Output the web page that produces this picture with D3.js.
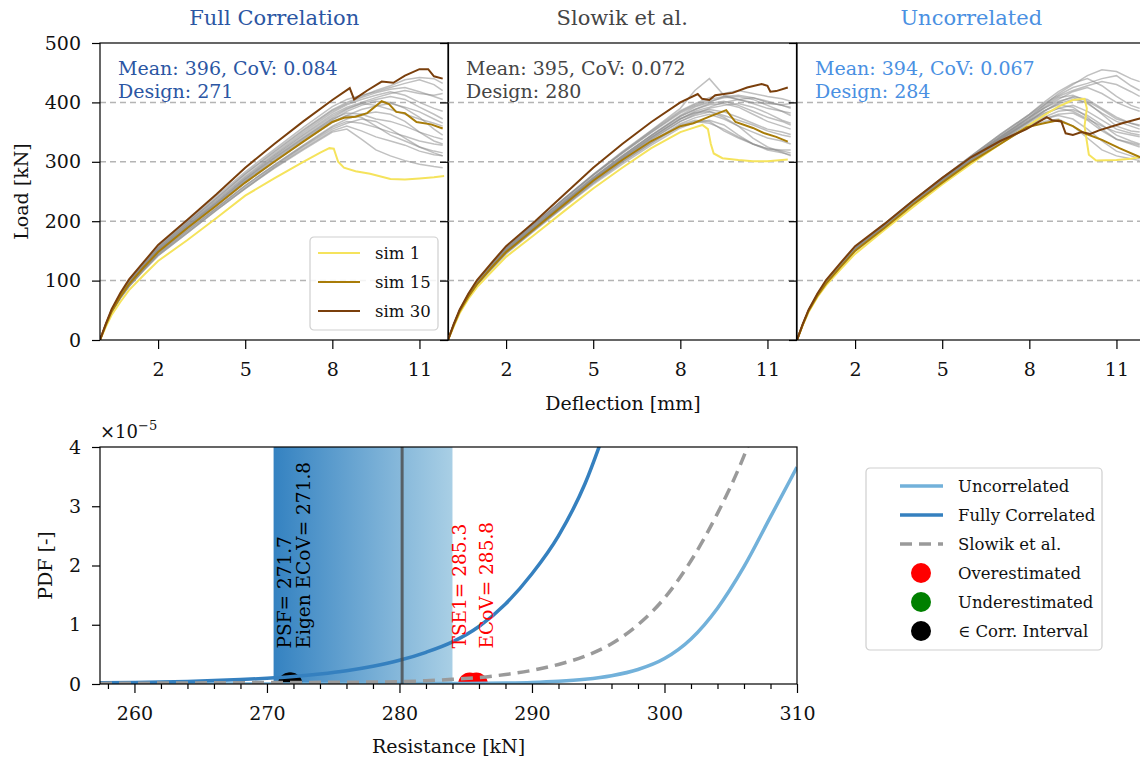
<!DOCTYPE html>
<html>
<head>
<meta charset="utf-8">
<script src="https://cdn.jsdelivr.net/npm/d3@7"></script>
<style>
  body { margin: 0; background: #fff; }
  svg { font-family: "DejaVu Serif", serif; }
  .grid-line { stroke: #b4b4b4; stroke-width: 1.5; stroke-dasharray: 6,4; }
  .frame { fill: none; stroke: #000; stroke-width: 1.2; }
  .gray-sim { fill: none; stroke: #8c8c8c; stroke-opacity: 0.55; stroke-width: 1.5; }
</style>
</head>
<body>
<div id="chart"></div>
<script>
/**
 * DATA
 * */
// shared deflection grid [mm] for the gray simulations
const deflection = [0, 0.2, 0.4, 0.7, 1, 1.5, 2, 3, 4, 5, 6, 7, 8, 8.5, 9, 9.5, 10, 10.5, 11, 11.5, 11.8];

// gray simulations, load [kN] at each deflection
const fullGray = [
  [0,26,49,75,96,124,151,192,231,271,307,341,374,388,398,405,410,405,392,380,372],
  [0,25,48,73,94,122,148,188,226,265,300,334,366,378,388,394,398,392,384,372,365],
  [0,27,50,77,99,127,155,197,238,279,316,352,386,398,408,416,422,425,418,410,405],
  [0,25,47,72,93,120,146,185,222,260,294,327,358,368,365,358,350,343,335,330,328],
  [0,26,50,76,97,126,153,194,234,274,311,346,380,392,400,408,415,420,415,412,415],
  [0,24,46,70,90,117,142,180,218,255,290,322,352,360,352,342,335,328,318,312,310],
  [0,26,49,74,95,123,150,190,229,268,304,338,370,385,395,402,400,390,375,355,345],
  [0,27,51,78,100,129,157,200,242,283,321,358,393,405,412,418,425,432,438,430,420],
  [0,24,47,71,91,118,144,182,220,257,292,325,355,365,372,368,355,340,325,318,315],
  [0,26,49,75,97,125,152,193,232,272,309,344,377,390,398,395,388,380,372,365,360],
  [0,25,48,74,95,122,149,189,228,267,302,336,368,378,375,360,345,335,325,315,310],
  [0,26,50,76,98,127,154,196,236,276,313,349,383,396,405,412,418,412,400,390,385],
  [0,25,47,72,92,119,145,184,222,260,295,328,360,372,380,384,380,368,350,335,330],
  [0,26,49,75,96,124,151,191,230,270,306,340,372,382,380,372,368,360,350,342,338],
  [0,24,46,70,90,117,142,180,218,255,289,320,350,355,338,320,310,302,296,292,290],
  [0,27,51,77,99,128,156,198,239,280,318,354,388,400,410,420,428,438,442,440,432]
];
const slowikGray = [
  [0,26,49,74,95,123,150,190,230,270,305,338,368,380,390,395,398,392,382,370,365],
  [0,26,50,76,97,126,153,194,234,274,310,344,377,388,398,402,395,385,375,368,362],
  [0,25,48,73,94,122,148,188,228,267,302,334,364,374,380,372,360,350,340,335,330],
  [0,27,50,77,99,127,155,197,238,278,315,350,384,396,405,410,412,408,400,395,392],
  [0,25,47,72,92,119,145,185,224,262,296,328,357,366,370,362,345,330,320,315,312],
  [0,27,50,77,99,127,155,197,238,279,317,353,390,420,440,412,405,400,398,396,398],
  [0,26,49,74,95,123,150,190,230,270,306,340,372,385,392,400,405,408,402,395,390],
  [0,25,48,73,93,121,147,187,226,265,300,332,362,370,368,352,340,330,322,318,315],
  [0,26,50,76,98,127,154,196,236,277,314,349,382,394,402,408,410,405,395,385,378],
  [0,26,49,75,96,124,151,191,231,271,307,341,373,383,388,384,375,365,355,350,346],
  [0,26,49,75,97,125,152,193,233,273,309,344,376,388,396,398,392,380,368,360,355],
  [0,25,48,74,95,122,149,189,229,268,304,337,368,378,384,375,360,340,325,316,310],
  [0,27,50,77,99,127,155,197,238,278,316,352,386,398,408,415,420,415,410,406,402],
  [0,26,49,75,96,124,151,191,231,271,307,341,372,382,385,378,370,362,352,345,342],
  [0,26,49,75,97,125,152,193,233,273,310,345,378,392,400,410,405,398,390,385,382],
  [0,25,47,72,93,120,146,186,225,264,299,331,360,368,365,355,342,330,322,320,320]
];
const uncorrGray = [
  [0,26,50,76,97,126,153,192,232,270,305,338,368,385,400,410,405,390,375,365,360],
  [0,26,50,76,98,127,154,193,233,271,307,342,375,395,415,430,445,455,452,440,435],
  [0,26,49,75,96,124,151,190,230,268,302,333,360,372,378,372,355,335,318,310,305],
  [0,27,50,77,99,127,155,195,235,273,310,346,380,400,418,432,440,428,410,395,390],
  [0,26,49,75,97,125,152,191,231,269,304,336,366,380,390,395,385,370,355,348,345],
  [0,26,49,74,95,123,150,189,229,267,301,332,358,368,372,360,340,320,310,305,302],
  [0,26,50,76,97,126,153,192,232,270,306,340,372,390,405,418,425,415,400,390,385],
  [0,26,49,75,97,125,152,191,231,269,304,337,368,385,398,405,400,380,360,352,350],
  [0,27,50,77,99,127,155,194,234,272,309,344,378,395,410,420,428,435,430,418,410],
  [0,26,49,75,96,124,151,190,230,268,303,335,363,375,385,388,378,362,345,335,330],
  [0,26,50,76,97,126,153,193,233,271,307,341,374,392,408,412,402,388,372,365,362],
  [0,26,49,75,97,125,152,192,232,270,305,339,370,386,396,392,375,355,338,330,325],
  [0,27,50,77,99,127,155,195,235,273,310,346,380,398,412,425,432,440,445,428,420],
  [0,26,49,75,96,124,151,190,230,268,302,334,362,372,380,382,370,352,338,332,328],
  [0,26,50,76,97,126,153,193,233,271,307,342,375,390,402,408,398,382,368,360,355],
  [0,26,49,75,97,125,152,191,231,269,305,338,369,382,390,385,372,360,350,345,342]
];

// highlighted simulations: deflection / load pairs
const fullSim1D  = [0,0.2,0.4,0.7,1,1.5,2,3,4,5,6,7,7.6,7.9,8.05,8.2,8.4,8.8,9.3,10,10.5,11,11.5,11.85];
const fullSim1L  = [0,22,42,64,84,109,133,168,205,243,272,300,316,323,322,300,290,284,280,271,270,272,274,276];
const fullSim15D = [0,0.2,0.4,0.7,1,1.5,2,3,4,5,6,7,8,8.4,8.8,9.2,9.7,9.95,10.2,10.5,10.9,11.4,11.8];
const fullSim15L = [0,25,48,73,94,122,148,188,226,265,300,334,367,374,376,382,402,397,384,382,367,363,356];
const fullSim30D = [0,0.2,0.4,0.7,1,1.5,2,3,4,5,6,7,8,8.6,8.75,9.2,9.7,10.1,10.5,11,11.3,11.5,11.8];
const fullSim30L = [0,27,52,79,102,131,160,202,245,290,330,368,404,424,405,420,435,433,445,456,456,444,440];

const slowikSim1D  = [0,0.2,0.4,0.7,1,1.5,2,3,4,5,6,7,8,8.5,8.76,8.95,9.05,9.15,9.45,10,10.5,11,11.7];
const slowikSim1L  = [0,23,45,69,89,115,140,178,217,255,290,323,350,358,362,355,330,314,306,303,301,301,304];
const slowikSim15D = [0,0.2,0.4,0.7,1,1.5,2,3,4,5,6,7,8,8.45,9,9.58,9.9,10.5,10.9,11.3,11.7];
const slowikSim15L = [0,25,48,73,94,122,148,188,228,268,303,335,360,365,376,387,367,357,348,342,334];
const slowikSim30D = [0,0.2,0.4,0.7,1,1.5,2,3,4,5,6,7,8,8.6,8.75,9,9.2,9.8,10.3,10.8,11,11.1,11.3,11.7];
const slowikSim30L = [0,27,51,78,101,130,158,200,245,290,330,367,400,414,406,404,412,416,425,431,428,418,419,425];

const uncorrSim1D  = [0,0.2,0.4,0.7,1,1.5,2,3,4,5,6,7,7.9,8.5,9,9.5,9.9,9.98,9.9,10.05,10.3,11,11.5,11.8,12];
const uncorrSim1L  = [0,25,47,72,92,119,145,185,224,262,297,330,359,378,393,404,406,390,360,312,302,303,305,308,310];
const uncorrSim15D = [0,0.2,0.4,0.7,1,1.5,2,3,4,5,6,7,7.9,8.5,9,9.5,9.9,10.5,11.1,11.8,12];
const uncorrSim15L = [0,26,49,74,95,123,150,188,228,265,300,330,358,365,370,360,348,337,323,308,305];
const uncorrSim30D = [0,0.2,0.4,0.7,1,1.5,2,3,4,5,6,7,7.9,8.6,8.78,9.1,9.25,9.5,9.8,10.1,10.4,11.2,11.8,12];
const uncorrSim30L = [0,27,51,78,101,130,158,195,235,273,308,335,355,375,370,368,348,345,350,347,353,365,373,376];

const panelTitles  = ["Full Correlation", "Slowik et al.", "Uncorrelated"];
const panelMeans   = [396, 395, 394];
const panelCovs    = ["0.084", "0.072", "0.067"];
const panelDesigns = [271, 280, 284];
const simNames     = ["sim 1", "sim 15", "sim 30"];
const loadTicks    = [0, 100, 200, 300, 400, 500];
const deflTicks    = [2, 5, 8, 11];

// lower chart: PDF values in units of 1e-5
const fullCorrR   = [257.4,260,262,264,266,268,270,272,274,276,278,280,282,284,286,288,290,292,294,296];
const fullCorrPdf = [0.02,0.027,0.034,0.044,0.057,0.074,0.097,0.128,0.17,0.225,0.30,0.40,0.535,0.71,0.97,1.35,1.86,2.5,3.38,4.6];
const slowikR     = [257.4,266,270,276,280,282,284,286,288,290,292,294,296,298,300,302,304,306,308];
const slowikPdf   = [0.01,0.02,0.025,0.03,0.04,0.055,0.08,0.11,0.16,0.23,0.33,0.47,0.68,1.0,1.45,2.08,2.88,3.85,5.1];
const uncorrR     = [257.4,270,280,284,288,290,292,294,296,298,300,302,304,306,308,310];
const uncorrPdf   = [0,0.001,0.004,0.008,0.015,0.025,0.045,0.08,0.14,0.245,0.43,0.76,1.28,1.98,2.82,3.66];
const corrInterval = [270.5, 284];
const corrMean     = 280.2;
const pdfTicks     = [0, 1, 2, 3, 4];
const resTicks     = [260, 270, 280, 290, 300, 310];
const resMinor     = [258,262,264,266,268,272,274,276,278,282,284,286,288,292,294,296,298,302,304,306,308];

const estNames  = ["PSF", "Eigen ECoV", "TSE1", "ECoV"];
const estValues = [271.7, 271.8, 285.3, 285.8];
const estKinds  = ["inside", "inside", "over", "over"];

/**
 * CONSTANTS AND GLOBALS
 * */
const width = 1140, height = 762;
const upper = { y0: 43, y1: 340, lefts: [100, 448, 797], w: 348.5 };
const lower = { x0: 100, x1: 797, y0: 447, y1: 684 };
const titleColors = ["#2b56a3", "#454545", "#4a90e2"];
const simColors = ["#f5e35c", "#a87c08", "#7a3f0c"];
const kindColors = { over: "#ff0000", under: "#008000", inside: "#000000" };
const fullBlue = "#3580bf", lightBlue = "#72b1da", slowikGrayColor = "#9a9a9a";
// label offsets (px) of the rotated estimate labels
const estLabelDx = [2, 19, -4, 17];

const svg = d3.select("#chart").append("svg")
  .attr("width", width).attr("height", height);

const panels = [
  { gray: fullGray, sims: [[fullSim1D, fullSim1L], [fullSim15D, fullSim15L], [fullSim30D, fullSim30L]] },
  { gray: slowikGray, sims: [[slowikSim1D, slowikSim1L], [slowikSim15D, slowikSim15L], [slowikSim30D, slowikSim30L]] },
  { gray: uncorrGray, sims: [[uncorrSim1D, uncorrSim1L], [uncorrSim15D, uncorrSim15L], [uncorrSim30D, uncorrSim30L]] }
];

const yLoad = d3.scaleLinear().domain([0, 500]).range([upper.y1, upper.y0]);

function styleAxis(g, size) {
  g.attr("font-family", "DejaVu Serif").attr("font-size", size);
  g.select(".domain").remove();
  g.selectAll(".tick line").attr("stroke", "#000").attr("stroke-width", 1.2);
  g.selectAll(".tick text").attr("fill", "#111");
}

/**
 * TOP PANELS
 * */
panels.forEach((p, i) => {
  const left = upper.lefts[i];
  const x = d3.scaleLinear().domain([0, 12]).range([left, left + upper.w]);
  const clipId = "clip" + i;
  svg.append("clipPath").attr("id", clipId)
    .append("rect").attr("x", left).attr("y", upper.y0)
    .attr("width", upper.w).attr("height", upper.y1 - upper.y0);

  const g = svg.append("g");
  // dashed grid
  g.selectAll(".grid-line")
    .data([100, 200, 300, 400])
    .join("line")
    .attr("class", "grid-line")
    .attr("x1", left).attr("x2", left + upper.w)
    .attr("y1", d => yLoad(d)).attr("y2", d => yLoad(d));

  const line = d3.line().x(d => x(d[0])).y(d => yLoad(d[1]));
  const plot = g.append("g").attr("clip-path", `url(#${clipId})`);
  plot.selectAll("path.gray-sim")
    .data(p.gray)
    .join("path")
    .attr("class", "gray-sim")
    .attr("d", ys => line(deflection.map((d, k) => [d, ys[k]])));
  plot.selectAll("path.sim")
    .data(p.sims)
    .join("path")
    .attr("class", "sim")
    .attr("fill", "none")
    .attr("stroke", (d, k) => simColors[k])
    .attr("stroke-width", 2)
    .attr("d", s => line(s[0].map((d, k) => [d, s[1][k]])));

  // axes
  const yAxis = d3.axisLeft(yLoad).tickValues(loadTicks).tickSize(8).tickPadding(11);
  if (i > 0) yAxis.tickFormat("");
  g.append("g").attr("transform", `translate(${left},0)`).call(yAxis).call(styleAxis, 19);
  g.append("g").attr("transform", `translate(0,${upper.y1})`)
    .call(d3.axisBottom(x).tickValues(deflTicks).tickSize(9).tickPadding(14))
    .call(styleAxis, 19);

  g.append("rect").attr("class", "frame")
    .attr("x", left).attr("y", upper.y0)
    .attr("width", upper.w).attr("height", upper.y1 - upper.y0);

  // title and stats
  svg.append("text")
    .attr("x", left + upper.w / 2).attr("y", 25)
    .attr("text-anchor", "middle")
    .attr("font-size", 21)
    .attr("fill", titleColors[i])
    .text(panelTitles[i]);
  const stats = svg.append("text")
    .attr("x", left + 18).attr("y", 75)
    .attr("font-size", 19)
    .attr("fill", titleColors[i]);
  stats.append("tspan").attr("x", left + 18).text(`Mean: ${panelMeans[i]}, CoV: ${panelCovs[i]}`);
  stats.append("tspan").attr("x", left + 18).attr("dy", 23).text(`Design: ${panelDesigns[i]}`);
});

// legend in first panel
const leg1 = svg.append("g").attr("transform", "translate(310,237)");
leg1.append("rect")
  .attr("width", 128).attr("height", 93).attr("rx", 4)
  .attr("fill", "#fff").attr("fill-opacity", 0.85)
  .attr("stroke", "#cfcfcf").attr("stroke-width", 1.2);
simNames.forEach((n, k) => {
  const yy = 16 + k * 29;
  leg1.append("line").attr("x1", 8).attr("x2", 50).attr("y1", yy).attr("y2", yy)
    .attr("stroke", simColors[k]).attr("stroke-width", 2);
  leg1.append("text").attr("x", 65).attr("y", yy + 6)
    .attr("font-size", 16.5).attr("fill", "#111").text(n);
});

svg.append("text")
  .attr("transform", `translate(28,${(upper.y0 + upper.y1) / 2}) rotate(-90)`)
  .attr("text-anchor", "middle").attr("font-size", 19).attr("fill", "#111")
  .text("Load [kN]");
svg.append("text")
  .attr("x", 623).attr("y", 410)
  .attr("text-anchor", "middle").attr("font-size", 19).attr("fill", "#111")
  .text("Deflection [mm]");

/**
 * BOTTOM PDF CHART
 * */
const xRes = d3.scaleLinear().domain([257.4, 310]).range([lower.x0, lower.x1]);
const yPdf = d3.scaleLinear().domain([0, 4]).range([lower.y1, lower.y0]);

svg.append("clipPath").attr("id", "clipPdf")
  .append("rect").attr("x", lower.x0).attr("y", lower.y0)
  .attr("width", lower.x1 - lower.x0).attr("height", lower.y1 - lower.y0);

const grad = svg.append("defs").append("linearGradient")
  .attr("id", "corrGrad").attr("gradientUnits", "userSpaceOnUse")
  .attr("x1", xRes(corrInterval[0])).attr("x2", xRes(corrInterval[1]))
  .attr("y1", 0).attr("y2", 0);
grad.append("stop").attr("offset", "0%").attr("stop-color", "#3482c1");
grad.append("stop").attr("offset", "100%").attr("stop-color", "#a9cfe5");

const pg = svg.append("g").attr("clip-path", "url(#clipPdf)");
pg.append("rect")
  .attr("x", xRes(corrInterval[0])).attr("y", lower.y0)
  .attr("width", xRes(corrInterval[1]) - xRes(corrInterval[0]))
  .attr("height", lower.y1 - lower.y0)
  .attr("fill", "url(#corrGrad)");

// estimate markers sit under the curves
pg.selectAll("circle.est")
  .data(estValues)
  .join("circle")
  .attr("class", "est")
  .attr("cx", d => xRes(d)).attr("cy", yPdf(0)).attr("r", 11.5)
  .attr("fill", (d, k) => kindColors[estKinds[k]]);

const pdfLine = d3.line().curve(d3.curveMonotoneX).x(d => xRes(d[0])).y(d => yPdf(d[1]));
const pdfSeries = [
  { r: uncorrR, v: uncorrPdf, color: lightBlue, dash: null, name: "Uncorrelated" },
  { r: fullCorrR, v: fullCorrPdf, color: fullBlue, dash: null, name: "Fully Correlated" },
  { r: slowikR, v: slowikPdf, color: slowikGrayColor, dash: "12,7", name: "Slowik et al." }
];
pg.selectAll("path.pdf")
  .data(pdfSeries)
  .join("path")
  .attr("class", "pdf")
  .attr("fill", "none")
  .attr("stroke", d => d.color)
  .attr("stroke-width", 3.5)
  .attr("stroke-dasharray", d => d.dash)
  .attr("d", d => pdfLine(d.r.map((r, k) => [r, d.v[k]])));

pg.append("line")
  .attr("x1", xRes(corrMean)).attr("x2", xRes(corrMean))
  .attr("y1", lower.y0).attr("y2", lower.y1)
  .attr("stroke", "#4a4a4a").attr("stroke-opacity", 0.8).attr("stroke-width", 3);

svg.selectAll("text.est-label")
  .data(estValues)
  .join("text")
  .attr("class", "est-label")
  .attr("transform", (d, k) => `translate(${xRes(d) + estLabelDx[k]},${yPdf(0.6)}) rotate(-90)`)
  .attr("font-size", 18.5)
  .attr("fill", (d, k) => kindColors[estKinds[k]])
  .text((d, k) => `${estNames[k]}= ${d}`);

// axes
svg.append("g").attr("transform", `translate(${lower.x0},0)`)
  .call(d3.axisLeft(yPdf).tickValues(pdfTicks).tickFormat(d3.format("d")).tickSize(8).tickPadding(11))
  .call(styleAxis, 19);
svg.append("g").attr("transform", `translate(0,${lower.y1})`)
  .call(d3.axisBottom(xRes).tickValues(resTicks).tickSize(9).tickPadding(14))
  .call(styleAxis, 19);
svg.append("g").attr("transform", `translate(0,${lower.y1})`)
  .call(d3.axisBottom(xRes).tickValues(resMinor).tickSize(5).tickFormat(""))
  .call(styleAxis, 19);
svg.append("rect").attr("class", "frame")
  .attr("x", lower.x0).attr("y", lower.y0)
  .attr("width", lower.x1 - lower.x0).attr("height", lower.y1 - lower.y0);

const expo = svg.append("text").attr("x", 100).attr("y", 438).attr("font-size", 18).attr("fill", "#111");
expo.append("tspan").text("×10");
expo.append("tspan").attr("dy", -8).attr("font-size", 13).text("−5");

svg.append("text")
  .attr("transform", `translate(52,${(lower.y0 + lower.y1) / 2}) rotate(-90)`)
  .attr("text-anchor", "middle").attr("font-size", 19).attr("fill", "#111")
  .text("PDF [-]");
svg.append("text")
  .attr("x", (lower.x0 + lower.x1) / 2).attr("y", 753)
  .attr("text-anchor", "middle").attr("font-size", 19).attr("fill", "#111")
  .text("Resistance [kN]");

// lower legend
const leg2 = svg.append("g").attr("transform", "translate(866,468)");
leg2.append("rect")
  .attr("width", 236).attr("height", 182).attr("rx", 4)
  .attr("fill", "#fff").attr("stroke", "#cfcfcf").attr("stroke-width", 1.2);
pdfSeries.forEach((s, k) => {
  const yy = 18 + k * 29;
  leg2.append("line").attr("x1", 34).attr("x2", 77).attr("y1", yy).attr("y2", yy)
    .attr("stroke", s.color).attr("stroke-width", 3.5).attr("stroke-dasharray", s.dash);
  leg2.append("text").attr("x", 92).attr("y", yy + 6).attr("font-size", 16.5).attr("fill", "#111").text(s.name);
});
const markerLegend = [["over", "Overestimated"], ["under", "Underestimated"], ["inside", "∈ Corr. Interval"]];
markerLegend.forEach((m, k) => {
  const yy = 18 + (k + 3) * 29;
  leg2.append("circle").attr("cx", 55).attr("cy", yy).attr("r", 10).attr("fill", kindColors[m[0]]);
  leg2.append("text").attr("x", 92).attr("y", yy + 6).attr("font-size", 16.5).attr("fill", "#111").text(m[1]);
});
</script>
</body>
</html>
